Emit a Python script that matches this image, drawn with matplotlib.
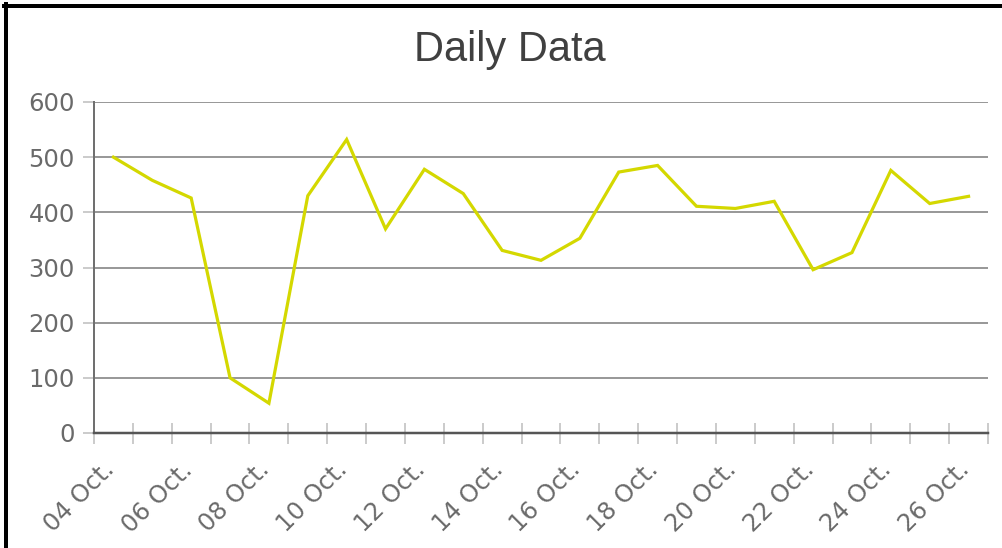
import matplotlib
matplotlib.use("Agg")
import matplotlib.pyplot as plt
import matplotlib.transforms as mtransforms
from matplotlib.lines import Line2D
import numpy as np

plt.rcParams["font.family"] = ["DejaVu Sans"]

days = ["04 Oct.", "05 Oct.", "06 Oct.", "07 Oct.", "08 Oct.", "09 Oct.", "10 Oct.",
        "11 Oct.", "12 Oct.", "13 Oct.", "14 Oct.", "15 Oct.", "16 Oct.", "17 Oct.",
        "18 Oct.", "19 Oct.", "20 Oct.", "21 Oct.", "22 Oct.", "23 Oct.", "24 Oct.",
        "25 Oct.", "26 Oct."]
values = [500, 458, 426, 100, 54, 430, 532, 370, 478, 434, 331, 313, 353, 473,
          485, 411, 407, 420, 296, 327, 476, 416, 429]
yticks = [0, 100, 200, 300, 400, 500, 600]

W, H = 1003, 548
PX = 72 / 100  # points per pixel
fig = plt.figure(figsize=(W / 100, H / 100), dpi=100)
ax = fig.add_axes([94 / W, (H - 433) / H, (988 - 94) / W, (433 - 102) / H])

n = len(days)
x = np.arange(n)
ax.plot(x, values, color="#d4d800", lw=3.2 * PX, solid_joinstyle="miter", zorder=3)

ax.set_xlim(-0.5, n - 0.5)
ax.set_ylim(0, 600)

ax.set_yticks(yticks)
ax.set_yticklabels([str(v) for v in yticks])
ax.grid(axis="y", color="#999999", lw=2 * PX, zorder=1)
ax.tick_params(axis="y", length=11 * PX, width=2 * PX, color="#cccccc",
               labelcolor="#6a6a6a", labelsize=17.5, pad=8 * PX)

ax.set_xticks(x[::2])
ax.set_xticklabels(days[::2], rotation=45, ha="right", va="center",
                   rotation_mode="anchor")
ax.tick_params(axis="x", length=0, labelcolor="#6a6a6a", labelsize=17.5, pad=33 * PX)
ax.set_xticks(np.arange(n + 1) - 0.5, minor=True)
ax.tick_params(axis="x", which="minor", direction="inout", length=21 * PX,
               width=2 * PX, color="#cccccc")

offset = mtransforms.ScaledTranslation(-3 / 100, 0, fig.dpi_scale_trans)
for lab in ax.get_xticklabels():
    lab.set_transform(lab.get_transform() + offset)

for s in ["top", "right"]:
    ax.spines[s].set_visible(False)
ax.spines["left"].set_color("#707070")
ax.spines["left"].set_linewidth(2 * PX)
ax.spines["bottom"].set_color("#555555")
ax.spines["bottom"].set_linewidth(2.5 * PX)
ax.spines["bottom"].set_zorder(4)

fig.text(510 / W, 1 - 61 / H, "Daily Data", ha="center", va="baseline",
         fontsize=30, color="#404040", family="Liberation Sans")

# black frame on the top and left edges
fig.add_artist(Line2D([4 / W, 1], [1 - 6 / H, 1 - 6 / H], transform=fig.transFigure,
                      color="black", lw=4 * PX))
fig.add_artist(Line2D([6 / W, 6 / W], [0, 1 - 4 / H], transform=fig.transFigure,
                      color="black", lw=4 * PX))

fig.savefig("out.png", dpi=100)
